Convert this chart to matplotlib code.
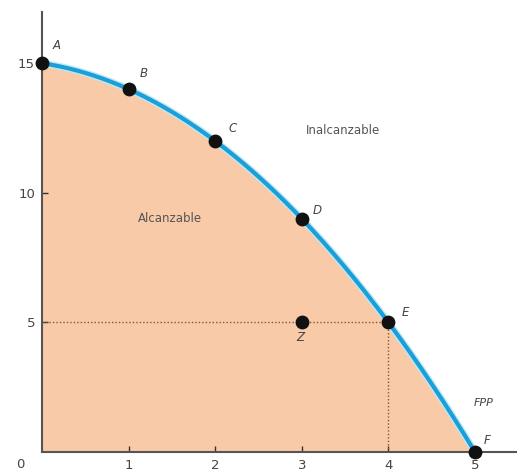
import numpy as np
import matplotlib.pyplot as plt

# Frontera de posibilidades de produccion
puntos = ['A', 'B', 'C', 'D', 'E', 'F']
x_pts = [0, 1, 2, 3, 4, 5]
y_pts = [15, 14, 12, 9, 5, 0]
z_pt = (3, 5)
xticks = [1, 2, 3, 4, 5]
yticks = [5, 10, 15]

fig = plt.figure(figsize=(5.17, 4.75), dpi=100)
ax = fig.add_axes([0.0812, 0.0484, 0.9188, 0.926])

# curva suave a traves de los puntos
coef = np.polyfit(x_pts, y_pts, 2)
xs = np.linspace(0, 5, 200)
ys = np.polyval(coef, xs)

ax.fill_between(xs, 0, ys, color='#f9caa8', lw=0, zorder=1)
ax.plot(xs, ys, color='#bfe8f7', lw=5, solid_capstyle='round', zorder=2)
ax.plot(xs, ys, color='#1a9fd6', lw=3, zorder=3)

# lineas punteadas hacia E
ax.plot([0, 4], [5, 5], color='#7a5a3c', lw=1, ls=(0, (1, 1.5)), zorder=2)
ax.plot([4, 4], [0, 5], color='#7a5a3c', lw=1, ls=(0, (1, 1.5)), zorder=2)

ax.scatter(x_pts, y_pts, s=80, color='#111111', zorder=5, clip_on=False)
ax.scatter([z_pt[0]], [z_pt[1]], s=80, color='#111111', zorder=5)

offs = {'A': (0.17, 0.7), 'B': (0.17, 0.6), 'C': (0.2, 0.5), 'D': (0.18, 0.3),
        'E': (0.2, 0.4), 'F': (0.14, 0.45)}
for p, x, y in zip(puntos, x_pts, y_pts):
    dx, dy = offs[p]
    ax.text(x + dx, y + dy, p, fontsize=8.5, style='italic', color='#444444',
            ha='center', va='center')
ax.text(z_pt[0] - 0.02, z_pt[1] - 0.6, 'Z', fontsize=8.5, style='italic',
        color='#444444', ha='center', va='center')
ax.text(5.1, 1.9, 'FPP', fontsize=8, style='italic', color='#444444',
        ha='center', va='center')

ax.text(3.48, 12.4, 'Inalcanzable', fontsize=8.5, color='#555555',
        ha='center', va='center')
ax.text(1.48, 9.0, 'Alcanzable', fontsize=8.5, color='#555555',
        ha='center', va='center')

ax.set_xlim(0, 5.485)
ax.set_ylim(0, 16.97)
ax.spines['top'].set_visible(False)
ax.spines['right'].set_visible(False)
for s in ['left', 'bottom']:
    ax.spines[s].set_color('#555555')
    ax.spines[s].set_linewidth(1.5)

ax.set_xticks(xticks)
ax.set_yticks(yticks)
ax.tick_params(direction='in', length=4, width=1, color='#333333',
               labelsize=9.5, labelcolor='#444444', pad=5)
ax.text(-0.25, -0.5, '0', fontsize=9.5, color='#444444', ha='center', va='center',
        clip_on=False)

fig.savefig('out.png', dpi=100)
